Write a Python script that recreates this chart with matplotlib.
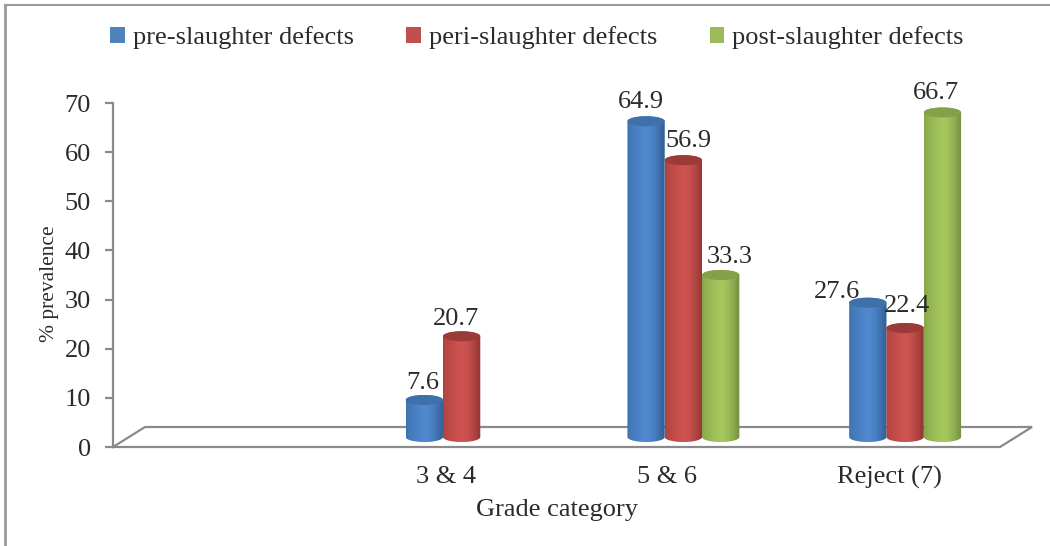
import numpy as np
import matplotlib
matplotlib.use('Agg')
import matplotlib.pyplot as plt
from matplotlib.patches import Ellipse, PathPatch, Patch
from matplotlib.path import Path
from matplotlib.lines import Line2D

categories = ['', '3 & 4', '5 & 6', 'Reject (7)']
pre_slaughter = [None, 7.6, 64.9, 27.6]
peri_slaughter = [None, 20.7, 56.9, 22.4]
post_slaughter = [None, None, 33.3, 66.7]
series_names = ['pre-slaughter defects', 'peri-slaughter defects', 'post-slaughter defects']
y_ticks = [0, 10, 20, 30, 40, 50, 60, 70]

# label nudges in pixels, the original labels were placed by hand
label_nudge = {
    (1, 0): (-2, 0), (1, 1): (-6, 0),
    (2, 0): (-5, 0), (2, 1): (5, 0), (2, 2): (9, 0),
    (3, 0): (-31, -7), (3, 1): (2, 4), (3, 2): (-6, 0),
}

# left edge, middle, right edge, top cap
palette = [
    ('#3d72ae', '#5189d0', '#315d92', '#3f70a9'),
    ('#ad423f', '#cf5451', '#8f3533', '#9a3b38'),
    ('#86a44a', '#a6c95d', '#728d3d', '#84a049'),
]
swatches = ['#4f81bd', '#c0504d', '#9bbb59']

GREY = '#8a8a8a'
TEXT = '#2b2b2b'
W, H = 1050, 546
plt.rcParams['font.family'] = ['Liberation Serif', 'DejaVu Serif']
plt.rcParams['font.size'] = 19

fig = plt.figure(figsize=(W / 100, H / 100), dpi=100)
ax = fig.add_axes([113 / W, (H - 447) / H, 887 / W, 344 / H])
ax.patch.set_alpha(0)

# depth of the fake 3d floor, in data units
depth_x = 32 / (887 / 4)
depth_y = 20 / (344 / 70)
bar_w = 37.3 / (887 / 4)
cap_h = 2.05
height_scale = 0.99


def gradient_image(colors):
    c = matplotlib.colors.to_rgb
    left, mid, right = c(colors[0]), c(colors[1]), c(colors[2])
    t = np.linspace(0, 1, 64)
    rows = []
    for v in t:
        if v < 0.5:
            rows.append(np.array(left) + (np.array(mid) - left) * (v / 0.5) ** 0.7)
        else:
            rows.append(np.array(mid) + (np.array(right) - mid) * ((v - 0.5) / 0.5) ** 1.6)
    return np.array(rows)[None, :, :]


def cylinder(x, value, colors, z):
    y0 = depth_y / 2
    y1 = y0 + value * height_scale
    th = np.linspace(0, np.pi, 40)
    bottom = np.c_[x + bar_w / 2 * np.cos(th + np.pi), y0 + cap_h / 2 * np.sin(th + np.pi)]
    top = np.c_[x + bar_w / 2 * np.cos(th), y1 + cap_h / 2 * np.sin(th)]
    verts = np.r_[bottom, top, bottom[:1]]
    clip = PathPatch(Path(verts), transform=ax.transData, fc='none', ec='none')
    ax.add_patch(clip)
    im = ax.imshow(gradient_image(colors), extent=[x - bar_w / 2, x + bar_w / 2, y0 - cap_h, y1 + cap_h],
                   aspect='auto', zorder=z, interpolation='bilinear')
    im.set_clip_path(clip)
    ax.add_patch(Ellipse((x, y1), bar_w, cap_h, fc=colors[3], ec='none', zorder=z + 0.1, clip_on=False))


# floor
ax.plot([0, depth_x, 4 + depth_x, 4, 0], [0, depth_y, depth_y, 0, 0], color=GREY, lw=1.6,
        clip_on=False, zorder=1, solid_joinstyle='miter')

all_series = [pre_slaughter, peri_slaughter, post_slaughter]
for s, values in enumerate(all_series):
    for i, v in enumerate(values):
        if v is None:
            continue
        x = i + 0.5 + depth_x / 2 + (s - 1) * bar_w
        cylinder(x, v, palette[s], 3 + s)
        dx, dy = label_nudge[(i, s)]
        ax.annotate(f'{v:.1f}', (x, v + depth_y / 2), xytext=(dx * 0.72, 4 + dy * 0.72),
                    textcoords='offset points', ha='center', va='bottom', color=TEXT,
                    annotation_clip=False, zorder=10)

ax.set_xlim(0, 4)
ax.set_ylim(0, 70)
ax.set_yticks(y_ticks)
ax.set_xticks(np.arange(4) + 0.5)
ax.set_xticklabels(categories, color=TEXT)
ax.tick_params(axis='x', length=0, pad=13.5)
ax.tick_params(axis='y', length=6, width=1.6, color=GREY, pad=10, labelcolor=TEXT)
for side in ['top', 'right', 'bottom']:
    ax.spines[side].set_visible(False)
ax.spines['left'].set_color(GREY)
ax.spines['left'].set_linewidth(1.6)

ax.set_xlabel('Grade category', color=TEXT, labelpad=7)
ax.set_ylabel('% prevalence', color=TEXT, y=0.476, labelpad=4, fontsize=15.5)

handles = [Patch(fc=c, ec='none') for c in swatches]
fig.legend(handles, series_names, loc='center', bbox_to_anchor=(537 / W, (H - 38) / H), ncols=3,
           frameon=False, handlelength=0.55, handleheight=0.55, handletextpad=0.3,
           columnspacing=2.0, labelcolor=TEXT, borderpad=0)

# picture frame
fig.add_artist(Line2D([5 / W, 5 / W], [0, (H - 5) / H], color='#9a9a9a', lw=2, transform=fig.transFigure))
fig.add_artist(Line2D([5 / W, 1], [(H - 5) / H, (H - 5) / H], color='#9a9a9a', lw=1.5, transform=fig.transFigure))

fig.savefig('out.png', dpi=100)
